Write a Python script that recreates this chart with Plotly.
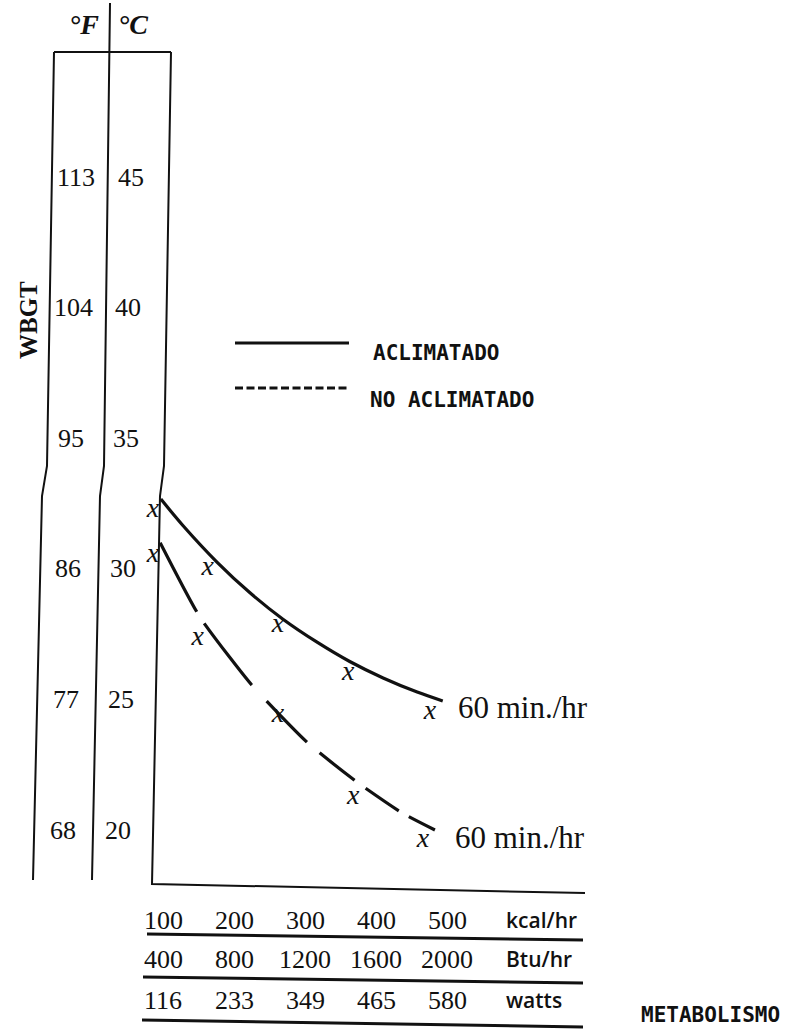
import plotly.graph_objects as go

# ---------------- data ----------------
kcal_ticks = [100, 200, 300, 400, 500]
kcal_labels = ["100", "200", "300", "400", "500"]
btu_labels = ["400", "800", "1200", "1600", "2000"]
watts_labels = ["116", "233", "349", "465", "580"]
unit_labels = ["kcal/hr", "Btu/hr", "watts"]

c_ticks = [45, 40, 35, 30, 25, 20]
f_labels = ["113", "104", "95", "86", "77", "68"]

# Aclimatado (solid curve) : metabolism kcal/hr vs WBGT degC
acl_kcal = [97, 128, 176, 222.5, 269, 317, 363, 410, 458, 494]
acl_wbgt = [32.67, 31.66, 30.26, 29.08, 28.07, 27.19, 26.45, 25.82, 25.28, 24.94]
acl_mark_kcal = [86, 163, 262, 361, 476]
acl_mark_wbgt = [32.25, 30.03, 27.85, 26.01, 24.52]

# No aclimatado (dashed curve)
noacl_kcal = [96, 152, 225, 304, 373, 437, 483]
noacl_wbgt = [31.0, 28.15, 25.55, 23.33, 21.84, 20.65, 20.0]
noacl_mark_kcal = [86, 149, 262, 368, 466]
noacl_mark_wbgt = [30.53, 27.35, 24.40, 21.26, 19.62]

# ---------------- layout geometry ----------------
W, H = 812, 1030
X0_PX, X_PER_KCAL = 92.0, 0.71      # pixel of 0 kcal/hr, pixels per kcal/hr
Y45_PX, Y_PER_C = 177.0, 26.12      # pixel of 45 degC, pixels per degC
x_range = [(0 - X0_PX) / X_PER_KCAL, (W - X0_PX) / X_PER_KCAL]
y_range = [45 - (H - Y45_PX) / Y_PER_C, 45 + Y45_PX / Y_PER_C]


def px(x):
    return x / W


def py(y):
    return 1 - y / H


def c_to_pix(c):
    return Y45_PX + (45 - c) * Y_PER_C


SERIF = "Liberation Serif, Times New Roman, serif"
MONO = "DejaVu Sans Mono, Liberation Mono, monospace"
SANS = "Open Sans, Liberation Sans, sans-serif"
INK = "#111111"

fig = go.Figure()

fig.add_trace(go.Scatter(
    x=acl_kcal, y=acl_wbgt, mode="lines",
    line=dict(color=INK, width=3.2, shape="spline", smoothing=1.0),
    hoverinfo="skip"))
fig.add_trace(go.Scatter(
    x=noacl_kcal, y=noacl_wbgt, mode="lines",
    line=dict(color=INK, width=3.2, shape="spline", smoothing=0.5,
              dash="78px,14px,78px,22px,57px,17px,44px,14px,40px,12px,30px,10px"),
    hoverinfo="skip"))
for xs, ys in ((acl_mark_kcal, acl_mark_wbgt), (noacl_mark_kcal, noacl_mark_wbgt)):
    fig.add_trace(go.Scatter(
        x=xs, y=ys, mode="text", text=["x"] * len(xs),
        textposition="middle center",
        textfont=dict(family=SERIF, size=28, color=INK, style="italic"),
        hoverinfo="skip"))

shapes = []


def poly(points, width=2.0, dash=None):
    path = "M " + " L ".join(f"{px(a):.5f},{py(b):.5f}" for a, b in points)
    ln = dict(color=INK, width=width)
    if dash:
        ln["dash"] = dash
    shapes.append(dict(type="path", xref="paper", yref="paper", path=path, line=ln))


# WBGT column frame (scanned slightly tilted)
poly([(54, 52), (47, 466), (42, 496), (33, 880)])
poly([(110, 3), (104, 466), (100, 496), (92, 880)])
poly([(171, 52), (164, 466), (160, 496), (152, 884), (585, 893)])
poly([(54, 52), (171, 52)])
# rules under the metabolism scales
poly([(147, 934), (583, 940)], width=3)
poly([(143, 977), (583, 983)], width=3)
poly([(142, 1020), (583, 1027)], width=3)
# legend samples
poly([(235, 343), (349, 343)], width=3)
poly([(235, 388), (347, 388)], width=3, dash="8px,3.5px")

ann = []


def text_at(x, y, s, font, xref="paper", yref="paper", xanchor="center", **kw):
    ann.append(dict(x=x, y=y, xref=xref, yref=yref, text=s, showarrow=False,
                    xanchor=xanchor, yanchor="middle", font=font, **kw))


# column headers
text_at(px(84), py(25), "°F", dict(family=SERIF, size=28, color=INK, weight="bold", style="italic"))
text_at(px(133), py(25), "°C", dict(family=SERIF, size=28, color=INK, weight="bold", style="italic"))
# WBGT title
text_at(px(28), py(320), "WBGT", dict(family=SERIF, size=25, color=INK, weight="bold"), textangle=-90)
# temperature tick labels
tilt = 0.02
for c, f in zip(c_ticks, f_labels):
    yp = c_to_pix(c)
    text_at(px(76 - tilt * (yp - Y45_PX)), c, f, dict(family=SERIF, size=26, color=INK), yref="y")
    text_at(px(131 - tilt * (yp - Y45_PX)), c, str(c), dict(family=SERIF, size=26, color=INK), yref="y")
# metabolism scale rows
rows = [(kcal_labels, 920), (btu_labels, 959), (watts_labels, 1000)]
for (labels, ypix), unit in zip(rows, unit_labels):
    for k, lab in zip(kcal_ticks, labels):
        text_at(k, py(ypix), lab, dict(family=SERIF, size=26, color=INK), xref="x")
    text_at(px(504), py(ypix), unit, dict(family=SANS, size=21, color=INK, weight=600), xanchor="left")
text_at(px(639), py(1015), "METABOLISMO", dict(family=MONO, size=21, color=INK, weight="bold"), xanchor="left")
# legend texts
text_at(px(371), py(353), "ACLIMATADO", dict(family=MONO, size=21, color=INK, weight="bold"), xanchor="left")
text_at(px(368), py(400), "NO ACLIMATADO", dict(family=MONO, size=21, color=INK, weight="bold"), xanchor="left")
# curve end labels
text_at(acl_kcal[-1] + 18, acl_wbgt[-1] - 0.25, "60 min./hr", dict(family=SERIF, size=31, color=INK),
        xref="x", yref="y", xanchor="left")
text_at(noacl_kcal[-1] + 25, noacl_wbgt[-1] - 0.3, "60 min./hr", dict(family=SERIF, size=31, color=INK),
        xref="x", yref="y", xanchor="left")

fig.update_layout(
    width=W, height=H,
    margin=dict(l=0, r=0, t=0, b=0),
    paper_bgcolor="white", plot_bgcolor="white",
    showlegend=False,
    xaxis=dict(range=x_range, visible=False, fixedrange=True),
    yaxis=dict(range=y_range, visible=False, fixedrange=True),
    shapes=shapes, annotations=ann,
)

fig.write_html("out.html", config={"displayModeBar": False},
               post_script="document.body.style.margin='0px';document.body.style.overflow='hidden';")
